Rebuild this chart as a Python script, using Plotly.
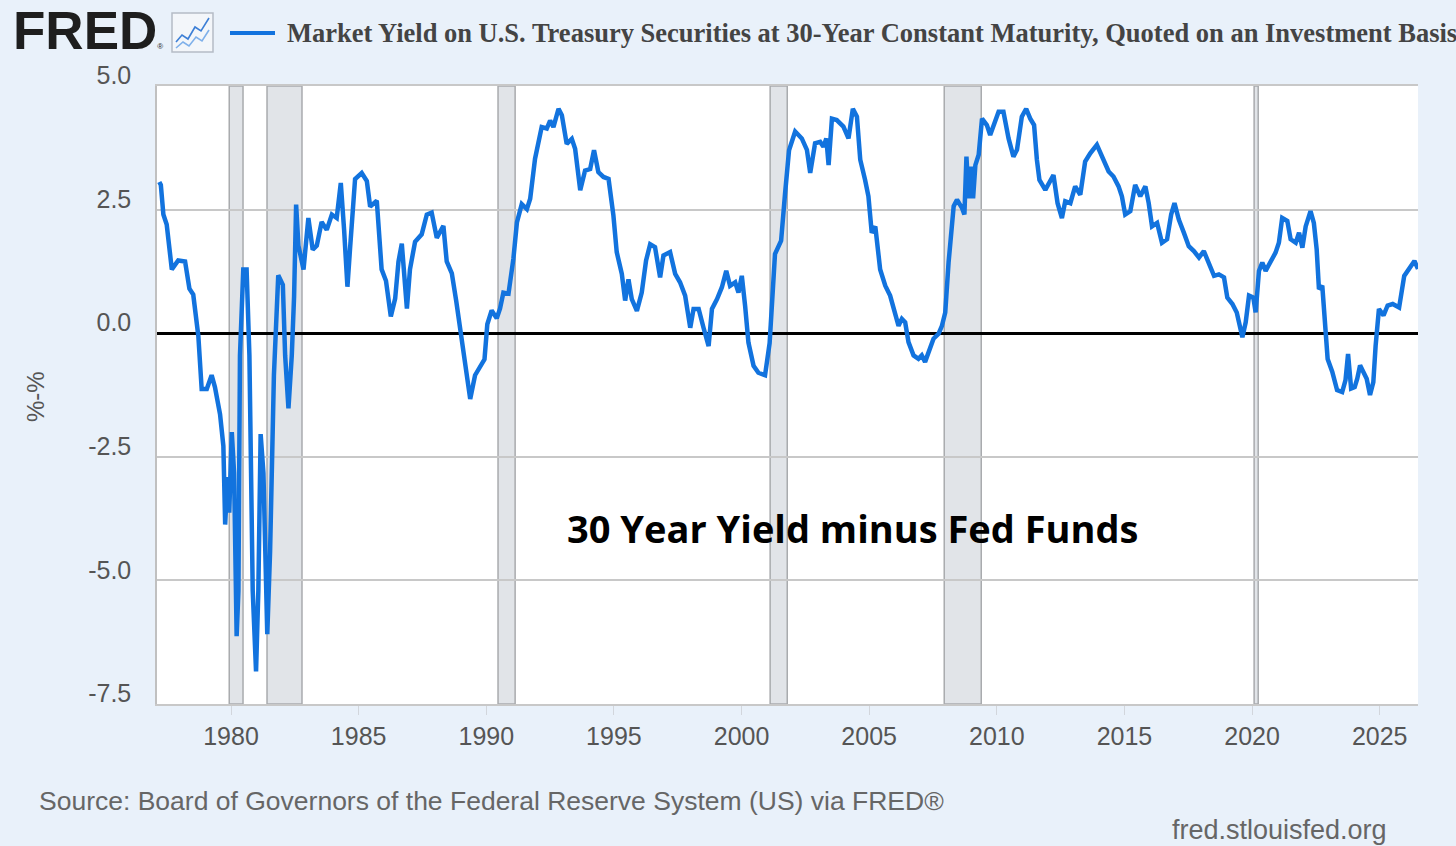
import plotly.graph_objects as go

# ---- data ----
years = [1977.19, 1977.25, 1977.35, 1977.48, 1977.68, 1977.93, 1978.2, 1978.37, 1978.52, 1978.72,
         1978.85, 1979.05, 1979.24, 1979.37, 1979.57, 1979.7, 1979.77, 1979.86, 1979.93, 1980.03,
         1980.12, 1980.22, 1980.29, 1980.35, 1980.48, 1980.61, 1980.72, 1980.85, 1980.98, 1981.07,
         1981.16, 1981.27, 1981.42, 1981.53, 1981.68, 1981.85, 1982.03, 1982.12, 1982.25, 1982.38,
         1982.47, 1982.55, 1982.64, 1982.84, 1983.03, 1983.2, 1983.36, 1983.55, 1983.75, 1983.95,
         1984.14, 1984.3, 1984.43, 1984.56, 1984.66, 1984.86, 1985.12, 1985.32, 1985.45, 1985.71,
         1985.9, 1986.07, 1986.26, 1986.43, 1986.56, 1986.69, 1986.89, 1987.01, 1987.21, 1987.47,
         1987.67, 1987.86, 1988.06, 1988.32, 1988.45, 1988.65, 1988.82, 1989.04, 1989.21, 1989.37,
         1989.56, 1989.76, 1989.93, 1990.04, 1990.21, 1990.41, 1990.54, 1990.67, 1990.87, 1991.06,
         1991.2, 1991.39, 1991.59, 1991.72, 1991.91, 1992.17, 1992.37, 1992.5, 1992.63, 1992.83,
         1992.96, 1993.15, 1993.35, 1993.48, 1993.68, 1993.87, 1994.07, 1994.22, 1994.39, 1994.59,
         1994.79, 1994.98, 1995.11, 1995.31, 1995.44, 1995.57, 1995.7, 1995.9, 1996.09, 1996.26,
         1996.42, 1996.61, 1996.81, 1996.94, 1997.2, 1997.4, 1997.59, 1997.79, 1997.99, 1998.12,
         1998.32, 1998.51, 1998.71, 1998.84, 1999.04, 1999.23, 1999.4, 1999.55, 1999.75, 1999.88,
         2000.01, 2000.14, 2000.27, 2000.47, 2000.66, 2000.92, 2001.1, 2001.31, 2001.55, 2001.7,
         2001.86, 2002.1, 2002.36, 2002.56, 2002.69, 2002.88, 2003.08, 2003.21, 2003.32, 2003.41,
         2003.54, 2003.73, 2003.99, 2004.19, 2004.36, 2004.52, 2004.65, 2004.84, 2004.97, 2005.1,
         2005.24, 2005.43, 2005.63, 2005.82, 2006.02, 2006.15, 2006.28, 2006.41, 2006.54, 2006.74,
         2006.93, 2007.06, 2007.19, 2007.39, 2007.52, 2007.72, 2007.85, 2007.98, 2008.11, 2008.31,
         2008.44, 2008.64, 2008.73, 2008.81, 2008.9, 2008.99, 2009.07, 2009.16, 2009.29, 2009.42,
         2009.61, 2009.74, 2009.9, 2010.07, 2010.26, 2010.46, 2010.65, 2010.79, 2010.98, 2011.15,
         2011.31, 2011.46, 2011.57, 2011.67, 2011.9, 2012.09, 2012.22, 2012.38, 2012.55, 2012.68,
         2012.88, 2013.07, 2013.27, 2013.46, 2013.66, 2013.92, 2014.12, 2014.38, 2014.57, 2014.77,
         2014.9, 2015.03, 2015.23, 2015.42, 2015.62, 2015.82, 2015.95, 2016.08, 2016.28, 2016.47,
         2016.67, 2016.83, 2016.96, 2017.13, 2017.33, 2017.52, 2017.72, 2017.92, 2018.11, 2018.31,
         2018.51, 2018.7, 2018.9, 2019.03, 2019.23, 2019.4, 2019.53, 2019.62, 2019.75, 2019.88,
         2020.05, 2020.14, 2020.27, 2020.4, 2020.53, 2020.72, 2020.92, 2021.05, 2021.18, 2021.38,
         2021.51, 2021.71, 2021.84, 2021.97, 2022.1, 2022.29, 2022.42, 2022.53, 2022.62, 2022.75,
         2022.87, 2022.96, 2023.14, 2023.33, 2023.53, 2023.66, 2023.76, 2023.88, 2024.02, 2024.12,
         2024.23, 2024.38, 2024.49, 2024.62, 2024.75, 2024.84, 2024.97, 2025.15, 2025.31, 2025.51,
         2025.76, 2025.96, 2026.1, 2026.25, 2026.36, 2026.5]

spread = [3.06, 3.0, 2.4, 2.2, 1.29, 1.47, 1.45, 0.9, 0.78, -0.06,
          -1.13, -1.13, -0.85, -1.09, -1.64, -2.28, -3.87, -2.91, -3.63, -2.0,
          -2.83, -6.13, -5.21, -0.45, 1.29, 1.29, -0.45, -5.21, -6.84, -5.21,
          -2.04, -2.83, -6.09, -4.42, -0.85, 1.17, 0.98, -0.45, -1.52, -0.45,
          0.74, 2.6, 1.77, 1.29, 2.33, 1.69, 1.77, 2.25, 2.09, 2.4,
          2.33, 3.04, 2.09, 0.94, 1.69, 3.12, 3.24, 3.08, 2.56, 2.68,
          1.29, 1.06, 0.34, 0.7, 1.45, 1.81, 0.5, 1.29, 1.85, 2.0,
          2.4, 2.44, 1.93, 2.17, 1.45, 1.21, 0.66, -0.13, -0.73, -1.33,
          -0.85, -0.69, -0.53, 0.18, 0.46, 0.3, 0.5, 0.82, 0.8, 1.5,
          2.24, 2.61, 2.51, 2.72, 3.53, 4.17, 4.14, 4.3, 4.17, 4.54,
          4.41, 3.83, 3.93, 3.73, 2.89, 3.29, 3.32, 3.7, 3.26, 3.16,
          3.12, 2.38, 1.64, 1.2, 0.66, 1.09, 0.69, 0.45, 0.82, 1.47,
          1.8, 1.74, 1.13, 1.57, 1.64, 1.2, 1.03, 0.76, 0.11, 0.49,
          0.49, 0.11, -0.26, 0.49, 0.69, 0.93, 1.26, 0.96, 1.03, 0.82,
          1.16, 0.55, -0.19, -0.66, -0.8, -0.85, -0.2, 1.6, 1.87, 2.8,
          3.7, 4.08, 3.94, 3.71, 3.24, 3.84, 3.87, 3.77, 3.94, 3.4,
          4.34, 4.31, 4.18, 3.94, 4.54, 4.38, 3.51, 3.1, 2.77, 2.03,
          2.16, 1.29, 0.96, 0.76, 0.36, 0.15, 0.29, 0.22, -0.18, -0.45,
          -0.52, -0.45, -0.58, -0.25, -0.11, -0.01, 0.15, 0.42, 1.43, 2.57,
          2.7, 2.53, 2.4, 3.57, 2.73, 3.37, 2.73, 3.4, 3.61, 4.34,
          4.21, 4.01, 4.24, 4.48, 4.48, 3.94, 3.57, 3.71, 4.38, 4.54,
          4.34, 4.21, 3.51, 3.1, 2.9, 3.07, 3.2, 2.63, 2.33, 2.67,
          2.63, 2.97, 2.8, 3.47, 3.64, 3.81, 3.57, 3.27, 3.17, 2.97,
          2.77, 2.4, 2.47, 3.0, 2.77, 2.97, 2.63, 2.16, 2.23, 1.83,
          1.9, 2.4, 2.63, 2.3, 2.03, 1.76, 1.66, 1.53, 1.66, 1.43,
          1.16, 1.19, 1.13, 0.72, 0.59, 0.42, 0.15, -0.08, 0.22, 0.76,
          0.72, 0.42, 1.26, 1.43, 1.26, 1.46, 1.63, 1.83, 2.33, 2.27,
          1.9, 1.83, 2.03, 1.73, 2.16, 2.47, 2.23, 1.7, 0.89, 0.96,
          0.02, -0.52, -0.78, -1.15, -1.19, -0.95, -0.42, -1.12, -1.09, -0.92,
          -0.65, -0.78, -0.92, -1.25, -0.99, -0.25, 0.49, 0.36, 0.56, 0.59,
          0.52, 1.16, 1.26, 1.36, 1.46, 1.3]

recession_starts = [1979.93, 1981.41, 1990.46, 2001.12, 2007.94, 2020.08]
recession_ends = [1980.47, 1982.78, 1991.13, 2001.79, 2009.39, 2020.24]

x_ticks = [1980, 1985, 1990, 1995, 2000, 2005, 2010, 2015, 2020, 2025]
y_ticks = [-7.5, -5.0, -2.5, 0.0, 2.5, 5.0]

series_name = ("Market Yield on U.S. Treasury Securities at 30-Year Constant Maturity, "
               "Quoted on an Investment Basis")
note_text = "30 Year Yield minus Fed Funds"
y_title = "%-%"
source_text = "Source: Board of Governors of the Federal Reserve System (US) via FRED®"
site_text = "fred.stlouisfed.org"

# ---- layout geometry (pixels) ----
W, H = 1456, 846
L, R, T, B = 157, 1418, 86, 704
PW, PH = R - L, B - T


def px(x):
    return (x - L) / PW


def py(y):
    return (B - y) / PH


LINE_BLUE = "#1273de"
BG = "#e9f1fa"
TICK_FONT = dict(family="Liberation Sans, Arial, sans-serif", size=25, color="#555555")

fig = go.Figure()
fig.add_trace(go.Scatter(
    x=years, y=spread, mode="lines", name=series_name,
    line=dict(color=LINE_BLUE, width=4.5), showlegend=False,
    hoverinfo="x+y",
))

shapes = []
for s, e in zip(recession_starts, recession_ends):
    shapes.append(dict(type="rect", xref="x", yref="paper", x0=s, x1=e, y0=0, y1=1,
                       fillcolor="#e1e4e8", line=dict(color="#a9abae", width=1.5),
                       layer="below"))

# legend-like blue line next to the title
shapes.append(dict(type="line", xref="paper", yref="paper",
                   x0=px(230), x1=px(275), y0=py(33), y1=py(33),
                   line=dict(color=LINE_BLUE, width=4)))

# small FRED chart icon
shapes.append(dict(type="rect", xref="paper", yref="paper",
                   x0=px(172), x1=px(213), y0=py(52), y1=py(13),
                   fillcolor="#f3f6fa", line=dict(color="#b5bcc6", width=1.5)))


def path_from(points):
    return "M " + " L ".join(f"{px(a):.5f},{py(b):.5f}" for a, b in points)


icon_upper = [(176, 42), (182, 35), (188, 39), (195, 27), (201, 31), (209, 18)]
icon_lower = [(176, 48), (183, 42), (189, 46), (196, 37), (202, 41), (209, 30)]
shapes.append(dict(type="path", xref="paper", yref="paper", path=path_from(icon_upper),
                   line=dict(color="#3d7fd6", width=1.6)))
shapes.append(dict(type="path", xref="paper", yref="paper", path=path_from(icon_lower),
                   line=dict(color="#7fb0ea", width=1.6)))

annotations = [
    dict(text="<b>FRED</b><span style='font-size:8px'>®</span>", xref="paper", yref="paper",
         x=px(11), y=py(31), xanchor="left", yanchor="middle", showarrow=False,
         font=dict(family="Liberation Sans, Arial, sans-serif", size=53, color="#1e1e1e")),
    dict(text="<b>" + series_name + "</b>", xref="paper", yref="paper", x=px(285), y=py(33),
         xanchor="left", yanchor="middle", showarrow=False,
         font=dict(family="Liberation Serif, Times New Roman, serif", size=26.5, color="#444444")),
    dict(text="<b>" + note_text + "</b>", xref="paper", yref="paper", x=px(852), y=py(528),
         xanchor="center", yanchor="middle", showarrow=False,
         font=dict(family="Open Sans, sans-serif", size=38, color="#000000")),
    dict(text=y_title, xref="paper", yref="paper", x=px(35), y=py(397), textangle=-90,
         xanchor="center", yanchor="middle", showarrow=False,
         font=dict(family="Liberation Sans, Arial, sans-serif", size=24, color="#555555")),
    dict(text=source_text, xref="paper", yref="paper", x=px(37), y=py(801),
         xanchor="left", yanchor="middle", showarrow=False,
         font=dict(family="Liberation Sans, Arial, sans-serif", size=26.5, color="#666666")),
    dict(text=site_text, xref="paper", yref="paper", x=px(1389), y=py(830),
         xanchor="right", yanchor="middle", showarrow=False,
         font=dict(family="Liberation Sans, Arial, sans-serif", size=27, color="#666666")),
]

fig.update_layout(
    width=W, height=H,
    margin=dict(l=L, r=W - R, t=T, b=H - B, pad=0),
    paper_bgcolor=BG, plot_bgcolor="#ffffff",
    shapes=shapes, annotations=annotations,
    showlegend=False,
    xaxis=dict(range=[1977.1, 2026.5], tickvals=x_ticks, ticktext=[str(v) for v in x_ticks],
               showgrid=False, zeroline=False, ticks="outside", ticklen=9,
               tickcolor="#d2d6dc", tickwidth=1, tickfont=TICK_FONT,
               showline=True, mirror=True, linecolor="#c8c8c8", linewidth=2),
    yaxis=dict(range=[-7.5, 5.0], tickvals=y_ticks, ticktext=[f"{v:.1f}" for v in y_ticks],
               showgrid=True, gridcolor="#c8c8c8", gridwidth=2,
               zeroline=True, zerolinecolor="#000000", zerolinewidth=2.5,
               ticks="", tickfont=TICK_FONT, ticklabelposition="outside top",
               ticklabelstandoff=19, ticklabelshift=7,
               showline=True, linecolor="#c0c0c0", linewidth=1.5),
)

fig.write_html(
    "out.html",
    config={"displayModeBar": False},
    post_script="document.body.style.margin='0px';"
                "document.body.style.backgroundColor='" + BG + "';",
)
